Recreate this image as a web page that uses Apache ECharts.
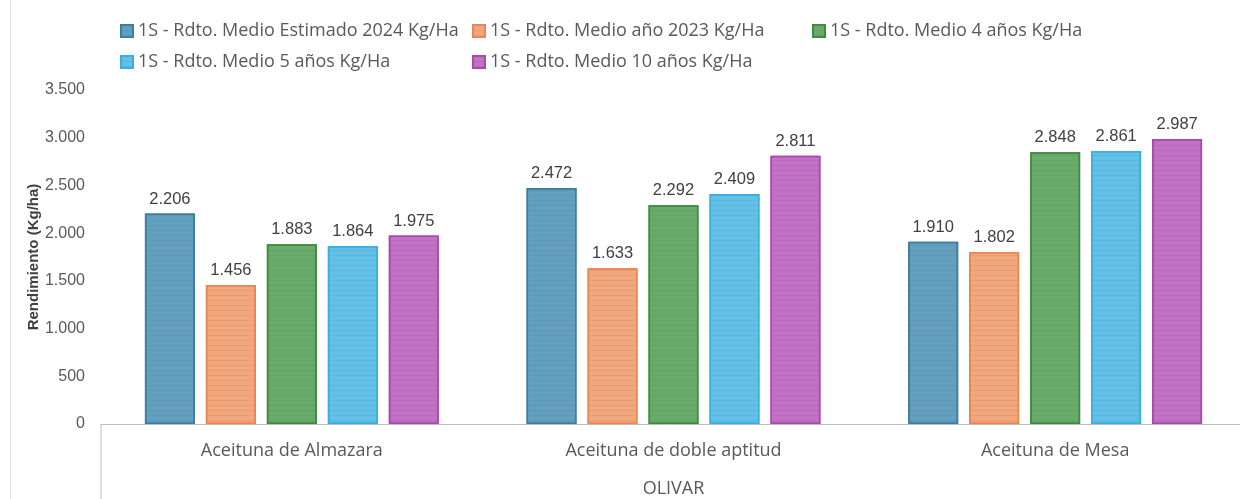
<!DOCTYPE html>
<html>
<head>
<meta charset="utf-8">
<title>Rendimiento OLIVAR</title>
<script src="https://cdn.jsdelivr.net/npm/echarts@6/dist/echarts.min.js"></script>
<style>
  html, body { margin: 0; padding: 0; background: #fff; }
  #chart { width: 1240px; height: 499px; }
</style>
</head>
<body>
<div id="chart"></div>
<script>
// datos
var categorias = ['Aceituna de Almazara', 'Aceituna de doble aptitud', 'Aceituna de Mesa'];
var series_nombres = [
  '1S - Rdto. Medio Estimado 2024 Kg/Ha',
  '1S - Rdto. Medio año 2023 Kg/Ha',
  '1S - Rdto. Medio 4 años Kg/Ha',
  '1S - Rdto. Medio 5 años Kg/Ha',
  '1S - Rdto. Medio 10 años Kg/Ha'
];
var estimado2024 = [2206, 2472, 1910];
var anio2023 = [1456, 1633, 1802];
var medio4 = [1883, 2292, 2848];
var medio5 = [1864, 2409, 2861];
var medio10 = [1975, 2811, 2987];
var valores = [estimado2024, anio2023, medio4, medio5, medio10];

var relleno = ['#63a0bf', '#f2a87c', '#69ab6b', '#63c1e7', '#c271c4'];
var borde = ['#3e7d9c', '#ea864e', '#3f8b42', '#3aaee0', '#a84aab'];

var chart = echarts.init(document.getElementById('chart'));

// separador de miles al estilo español
function miles(v) {
  return String(Math.round(v)).replace(/\B(?=(\d{3})+(?!\d))/g, '.');
}

var fuenteOffice = "'Open Sans', sans-serif";

var posLeyenda = [[120, 22], [472, 22], [812, 22], [120, 53], [472, 53]];
var leyendas = series_nombres.map(function (n, i) {
  return {
    data: [n],
    left: posLeyenda[i][0],
    top: posLeyenda[i][1],
    padding: 0,
    itemWidth: 12,
    itemHeight: 12,
    icon: 'rect',
    selectedMode: false,
    textStyle: { fontFamily: fuenteOffice, fontSize: 18, color: '#595959' }
  };
});

var series = valores.map(function (d, i) {
  return {
    name: series_nombres[i],
    type: 'bar',
    data: d,
    barGap: '22%',
    barCategoryGap: '23%',
    itemStyle: {
      color: relleno[i],
      borderColor: borde[i],
      borderWidth: 1.5,
      decal: {
        symbol: 'rect',
        dashArrayX: [1, 0],
        dashArrayY: [1, 4],
        color: 'rgba(0,0,0,0.06)'
      }
    },
    label: {
      show: true,
      position: 'top',
      distance: 6,
      fontFamily: 'Liberation Sans, Arial, sans-serif',
      fontSize: 16.5,
      color: '#404040',
      formatter: function (p) { return miles(p.value); }
    }
  };
});

var option = {
  animation: false,
  legend: leyendas,
  grid: { left: 101, right: -6, top: 90, bottom: 75, containLabel: false, outerBoundsMode: 'none' },
  xAxis: {
    type: 'category',
    data: categorias,
    name: 'OLIVAR',
    nameLocation: 'middle',
    nameGap: 56,
    nameTextStyle: { fontFamily: fuenteOffice, fontSize: 18, color: '#595959' },
    axisLine: { lineStyle: { color: '#bfbfbf', width: 1 } },
    axisTick: { show: false },
    axisLabel: { fontFamily: fuenteOffice, fontSize: 18, color: '#595959', margin: 18 }
  },
  yAxis: {
    type: 'value',
    min: 0,
    max: 3500,
    interval: 500,
    name: 'Rendimiento (Kg/ha)',
    nameLocation: 'middle',
    nameGap: 60,
    nameMoveOverlap: false,
    nameTextStyle: { fontFamily: 'Liberation Sans, Arial, sans-serif', fontSize: 15, fontWeight: 'bold', color: '#404040' },
    axisLine: { show: false },
    axisTick: { show: false },
    splitLine: { show: false },
    axisLabel: {
      fontFamily: 'Liberation Sans, Arial, sans-serif',
      fontSize: 16,
      color: '#595959',
      margin: 16,
      formatter: function (v) { return miles(v); }
    }
  },
  graphic: [
    { type: 'line', shape: { x1: 101, y1: 424, x2: 101, y2: 499 }, style: { stroke: '#bfbfbf', lineWidth: 1 } },
    { type: 'line', shape: { x1: 10.5, y1: 0, x2: 10.5, y2: 499 }, style: { stroke: '#e6e6e6', lineWidth: 1 } }
  ],
  series: series
};

chart.setOption(option);
</script>
</body>
</html>
